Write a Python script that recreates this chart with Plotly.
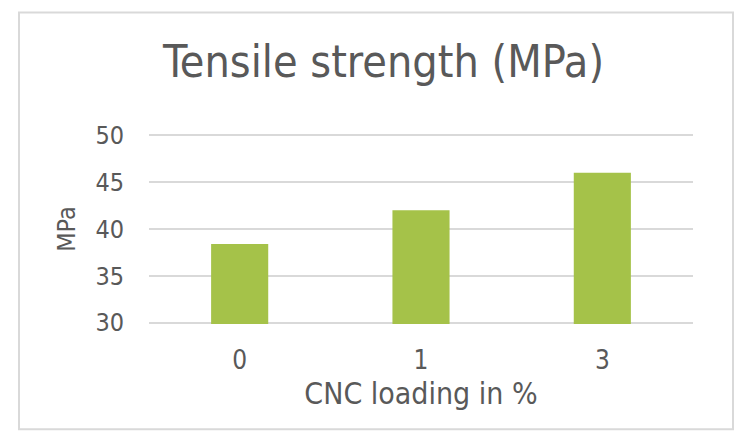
import plotly.graph_objects as go

# Tensile strength of the composite versus CNC loading
loading = ["0", "1", "3"]
strength_mpa = [38.4, 42.0, 46.0]
y_ticks = [30, 35, 40, 45, 50]

FONT = "DejaVu Sans Condensed, DejaVu Sans, sans-serif"
TEXT = "#595959"
GRID = "#d9d9d9"
BAR = "#a5c249"

# plot area: 30 MPa sits at y=322.3 px, 50 MPa at y=135 px
PAD = 0.15
PX_PER_UNIT = (322.3 - 135) / 20

fig = go.Figure(
    go.Bar(
        x=loading,
        y=strength_mpa,
        marker=dict(color=BAR, line=dict(width=0)),
        width=0.315,
    )
)

top = 135 - PAD * PX_PER_UNIT
bottom = 322.3 + PAD * PX_PER_UNIT
plot_h = bottom - top

fig.update_layout(
    width=734,
    height=433,
    margin=dict(l=149, r=41, t=top, b=433 - bottom, pad=0),
    paper_bgcolor="white",
    plot_bgcolor="white",
    showlegend=False,
    font=dict(family=FONT, color=TEXT, size=25),
    title=dict(
        text="Tensile strength (MPa)",
        font=dict(family=FONT, size=44.5, color=TEXT),
        x=383.5 / 734,
        xanchor="center",
        xref="container",
        y=1 - 61 / 433,
        yanchor="middle",
        yref="container",
    ),
    xaxis=dict(
        type="category",
        showgrid=False,
        showline=False,
        zeroline=False,
        ticks="",
        tickfont=dict(size=26, color=TEXT),
        ticklabelstandoff=18,
        title=dict(text="CNC loading in %", font=dict(size=30, color=TEXT), standoff=8),
    ),
    yaxis=dict(
        range=[30 - PAD, 50 + PAD],
        tickvals=y_ticks,
        showgrid=True,
        gridcolor=GRID,
        gridwidth=2,
        showline=False,
        zeroline=False,
        ticks="",
        tickfont=dict(size=25, color=TEXT),
        ticklabelstandoff=24,
        title=dict(text="MPa", font=dict(size=25, color=TEXT), standoff=12),
    ),
    shapes=[
        dict(
            type="rect",
            xref="paper",
            yref="paper",
            x0=(19 - 149) / 544,
            x1=(733 - 149) / 544,
            y0=(bottom - 429) / plot_h,
            y1=(bottom - 12) / plot_h,
            line=dict(color=GRID, width=2),
            fillcolor="rgba(0,0,0,0)",
            layer="below",
        )
    ],
)

fig.write_html("out.html")
